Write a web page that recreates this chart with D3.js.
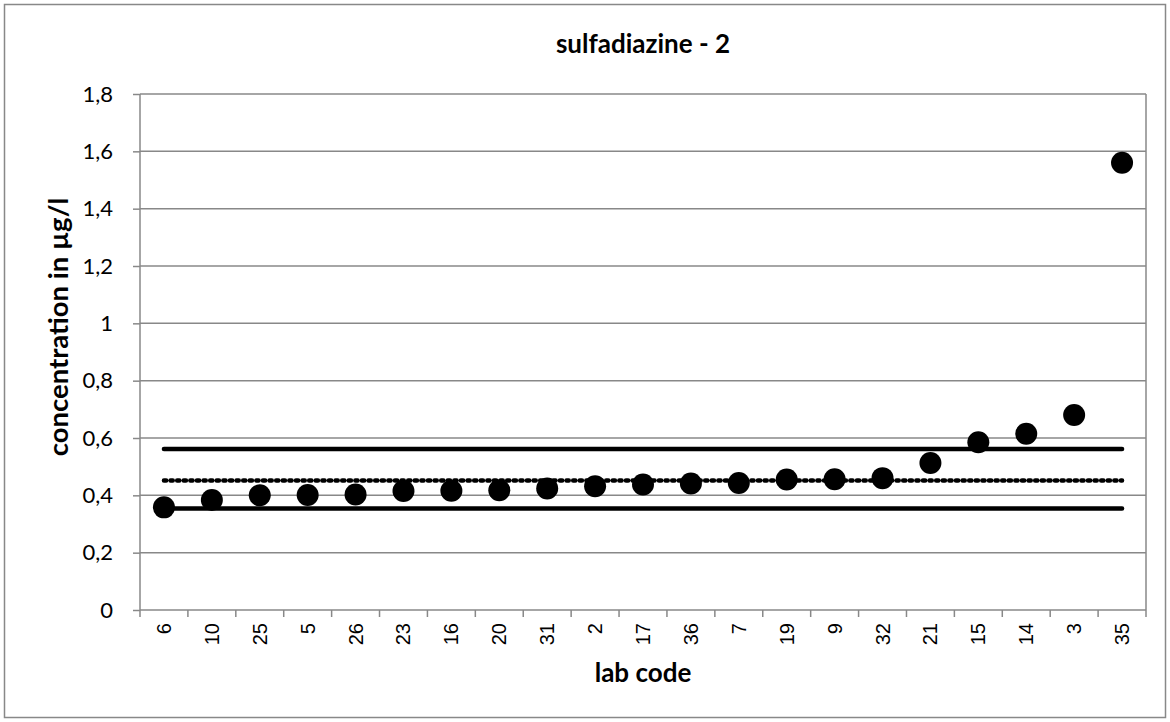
<!DOCTYPE html>
<html><head><meta charset="utf-8">
<script src="https://cdn.jsdelivr.net/npm/d3@7"></script>
<style>body{margin:0;background:#fff}</style>
</head><body>
<svg id="c" width="1170" height="722"></svg>
<script>
const labCodes = ["6","10","25","5","26","23","16","20","31","2","17","36","7","19","9","32","21","15","14","3","35"];
const concentrations = [0.358,0.384,0.400,0.401,0.403,0.415,0.416,0.418,0.424,0.432,0.438,0.441,0.443,0.455,0.456,0.460,0.513,0.585,0.615,0.680,1.560];
const yTicks = [0,0.2,0.4,0.6,0.8,1,1.2,1.4,1.6,1.8];
const upperLimit = 0.562;
const assignedValue = 0.452;
const lowerLimit = 0.354;

const svg = d3.select("#c");
const L=140, R=1146, T=94, B=610;
const FONT = "Lato, 'Open Sans', sans-serif";
svg.append("rect").attr("x",4.5).attr("y",4.5).attr("width",1161).attr("height",713)
  .attr("fill","#fff").attr("stroke","#888").attr("stroke-width",1.5);

const x = d3.scaleBand().domain(labCodes).range([L,R]);
const y = d3.scaleLinear().domain([0,1.8]).range([B,T]);
const fmt = d => String(d).replace(".",",");

// gridlines
svg.append("g").selectAll("line").data(yTicks.slice(1)).join("line")
  .attr("x1",L).attr("x2",R).attr("y1",d=>y(d)).attr("y2",d=>y(d))
  .attr("stroke","#888").attr("stroke-width",1.5);
svg.append("line").attr("x1",R).attr("x2",R).attr("y1",T).attr("y2",B).attr("stroke","#888").attr("stroke-width",1.5);

// y axis
const ya = svg.append("g").attr("transform",`translate(${L},0)`)
  .call(d3.axisLeft(y).tickValues(yTicks).tickFormat(fmt).tickSize(7).tickPadding(20));
ya.selectAll("path,line").attr("stroke","#888").attr("stroke-width",1.5);
ya.select("path").attr("d",`M0,${T}V${B}`);
ya.selectAll("text").attr("font-family",FONT).attr("font-size",22).attr("fill","#000");

// x axis
const xa = svg.append("g").attr("transform",`translate(0,${B})`)
  .call(d3.axisBottom(x).tickSize(0).tickPadding(0));
xa.select("path").attr("d",`M${L},0H${R}`).attr("stroke","#888").attr("stroke-width",1.5);
xa.selectAll(".tick text").attr("font-family","'Liberation Sans', Arial, sans-serif").attr("font-size",20).attr("fill","#000")
  .attr("transform","rotate(-90)").attr("text-anchor","end").attr("dy","0.35em").attr("x",-13).attr("y",0);
const bounds = labCodes.map(d=>x(d)).concat([R]);
svg.append("g").selectAll("line").data(bounds).join("line")
  .attr("x1",d=>d).attr("x2",d=>d).attr("y1",B).attr("y2",B+7).attr("stroke","#888").attr("stroke-width",1.5);

// limit lines
const x0 = x(labCodes[0])+x.bandwidth()/2, x1 = x(labCodes[labCodes.length-1])+x.bandwidth()/2;
[upperLimit, lowerLimit].forEach(v=>{
  svg.append("line").attr("x1",x0).attr("x2",x1).attr("y1",y(v)).attr("y2",y(v))
    .attr("stroke","#000").attr("stroke-width",4.5).attr("stroke-linecap","round");
});
svg.append("line").attr("x1",x0).attr("x2",x1).attr("y1",y(assignedValue)).attr("y2",y(assignedValue))
  .attr("stroke","#000").attr("stroke-width",4.5).attr("stroke-linecap","round").attr("stroke-dasharray","2.2,4.4");

// points
svg.append("g").selectAll("circle").data(labCodes).join("circle")
  .attr("cx",d=>x(d)+x.bandwidth()/2).attr("cy",(d,i)=>y(concentrations[i])).attr("r",11).attr("fill","#000");

// titles
svg.append("text").attr("x",(L+R)/2).attr("y",53).attr("text-anchor","middle")
  .attr("font-family",FONT).attr("font-weight","bold").attr("font-size",26).text("sulfadiazine - 2");
svg.append("text").attr("x",(L+R)/2).attr("y",682).attr("text-anchor","middle")
  .attr("font-family",FONT).attr("font-weight","bold").attr("font-size",26).text("lab code");
svg.append("text").attr("transform",`translate(68,327) rotate(-90)`).attr("text-anchor","middle")
  .attr("font-family",FONT).attr("font-weight","bold").attr("font-size",27.5).text("concentration in µg/l");
</script>
</body></html>
